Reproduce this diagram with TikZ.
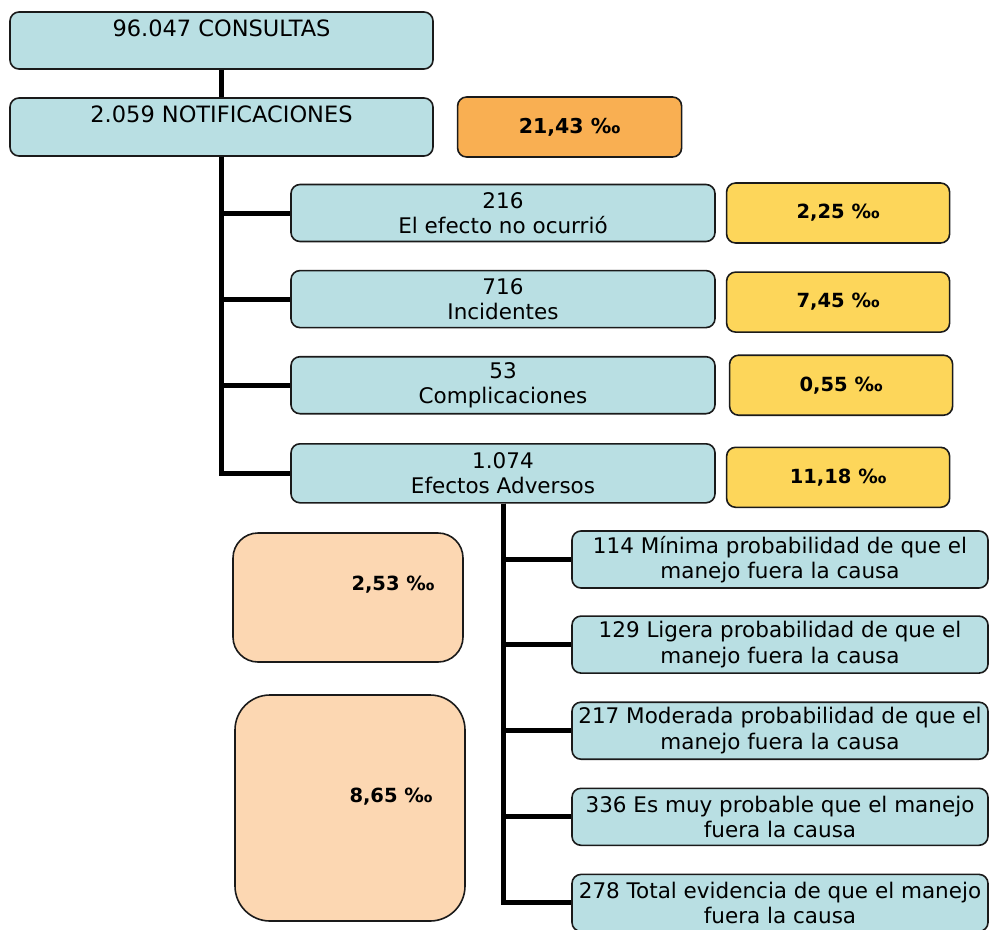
\documentclass[tikz,border=0pt]{standalone}
\usepackage{fontspec}
\setmainfont{DejaVu Sans}
\usepackage{tikz}
\usetikzlibrary{positioning}
\definecolor{CajaAzul}{HTML}{B9DFE3}
\definecolor{CajaNaranja}{HTML}{F9AF52}
\definecolor{CajaAmarilla}{HTML}{FDD65A}
\definecolor{CajaMelon}{HTML}{FCD7B2}
\definecolor{Borde}{HTML}{1A1A1A}

\begin{document}
\begin{tikzpicture}[x=1pt,y=-1pt,node distance=27.5pt]
  \tikzstyle{caja}=[draw=Borde,line width=1.6pt,fill=CajaAzul,rounded corners=9pt,
    minimum height=57pt,align=center,inner sep=0pt,
    font=\fontsize{21.5}{25.5}\selectfont]
  \tikzstyle{tasa}=[draw=Borde,line width=1.6pt,fill=CajaAmarilla,rounded corners=9pt,
    minimum width=223pt,minimum height=60pt,align=center,inner sep=0pt,
    font=\bfseries\fontsize{19.5}{22}\selectfont]
  \tikzstyle{melon}=[draw=Borde,line width=1.6pt,fill=CajaMelon,minimum width=230pt]
  \tikzstyle{rama}=[line width=5pt,color=black]
  \useasboundingbox (0,0) rectangle (990,929);
  \clip (0,0) rectangle (990,929);

  % cabecera
  \node[caja,minimum width=423pt,font=\fontsize{22.5}{25.5}\selectfont] (consultas)
    at (221.5,40.5) {96.047 CONSULTAS\\ \mbox{}};
  \node[caja,minimum width=423pt,minimum height=58pt,font=\fontsize{22.5}{25.5}\selectfont]
    (notificaciones) at (221.5,127) {2.059 NOTIFICACIONES\\ \mbox{}};
  \node[tasa,fill=CajaNaranja,minimum width=224pt,right=23pt of notificaciones,
    font=\bfseries\fontsize{20.5}{22}\selectfont] (tasaNotif) {21,43 ‰};

  % tipos de notificacion
  \node[caja,minimum width=424pt] (noocurrio) at (503,213) {216\\El efecto no ocurrió};
  \node[caja,minimum width=424pt,below=of noocurrio] (incidentes) {716\\Incidentes};
  \node[caja,minimum width=424pt,below=of incidentes] (complic) {53\\Complicaciones};
  \node[caja,minimum width=424pt,minimum height=59pt,below=28.5pt of complic] (efectos)
    {1.074\\Efectos Adversos};
  \node[tasa,right=10pt of noocurrio] (tasaNoocurrio) {2,25 ‰};
  \node[tasa,right=10pt of incidentes,yshift=-3pt] (tasaIncid) {7,45 ‰};
  \node[tasa,right=13pt of complic] (tasaCompl) {0,55 ‰};
  \node[tasa,right=10pt of efectos,yshift=-4pt] (tasaEfectos) {11,18 ‰};

  % probabilidad de causa
  \node[caja,minimum width=416pt] (prob1) at (780,559.5)
    {114 Mínima probabilidad de que el\\manejo fuera la causa};
  \node[caja,minimum width=416pt,below=26.5pt of prob1] (prob2)
    {129 Ligera probabilidad de que el\\manejo fuera la causa};
  \node[caja,minimum width=416pt,below=of prob2] (prob3)
    {217 Moderada probabilidad de que el\\manejo fuera la causa};
  \node[caja,minimum width=416pt,below=of prob3] (prob4)
    {336 Es muy probable que el manejo\\fuera la causa};
  \node[caja,minimum width=416pt,below=of prob4] (prob5)
    {278 Total evidencia de que el manejo\\fuera la causa};

  \node[melon,rounded corners=25pt,minimum height=129pt,
    label={[font=\bfseries\fontsize{19.5}{22}\selectfont,xshift=45pt,yshift=13pt]center:2,53 ‰}]
    (tasaBaja) at (348,597.5) {};
  \node[melon,rounded corners=35pt,minimum height=226pt,
    label={[font=\bfseries\fontsize{19.5}{22}\selectfont,xshift=41pt,yshift=11pt]center:8,65 ‰}]
    (tasaAlta) at (350,808) {};

  % conectores
  \draw[rama] (consultas) -- (notificaciones);
  \foreach \n in {noocurrio,incidentes,complic,efectos}
    \draw[rama] (notificaciones.south) |- (\n.west);
  \foreach \n in {prob1,prob2,prob3,prob4,prob5}
    \draw[rama] (efectos.south) |- (\n.west);
\end{tikzpicture}
\end{document}
